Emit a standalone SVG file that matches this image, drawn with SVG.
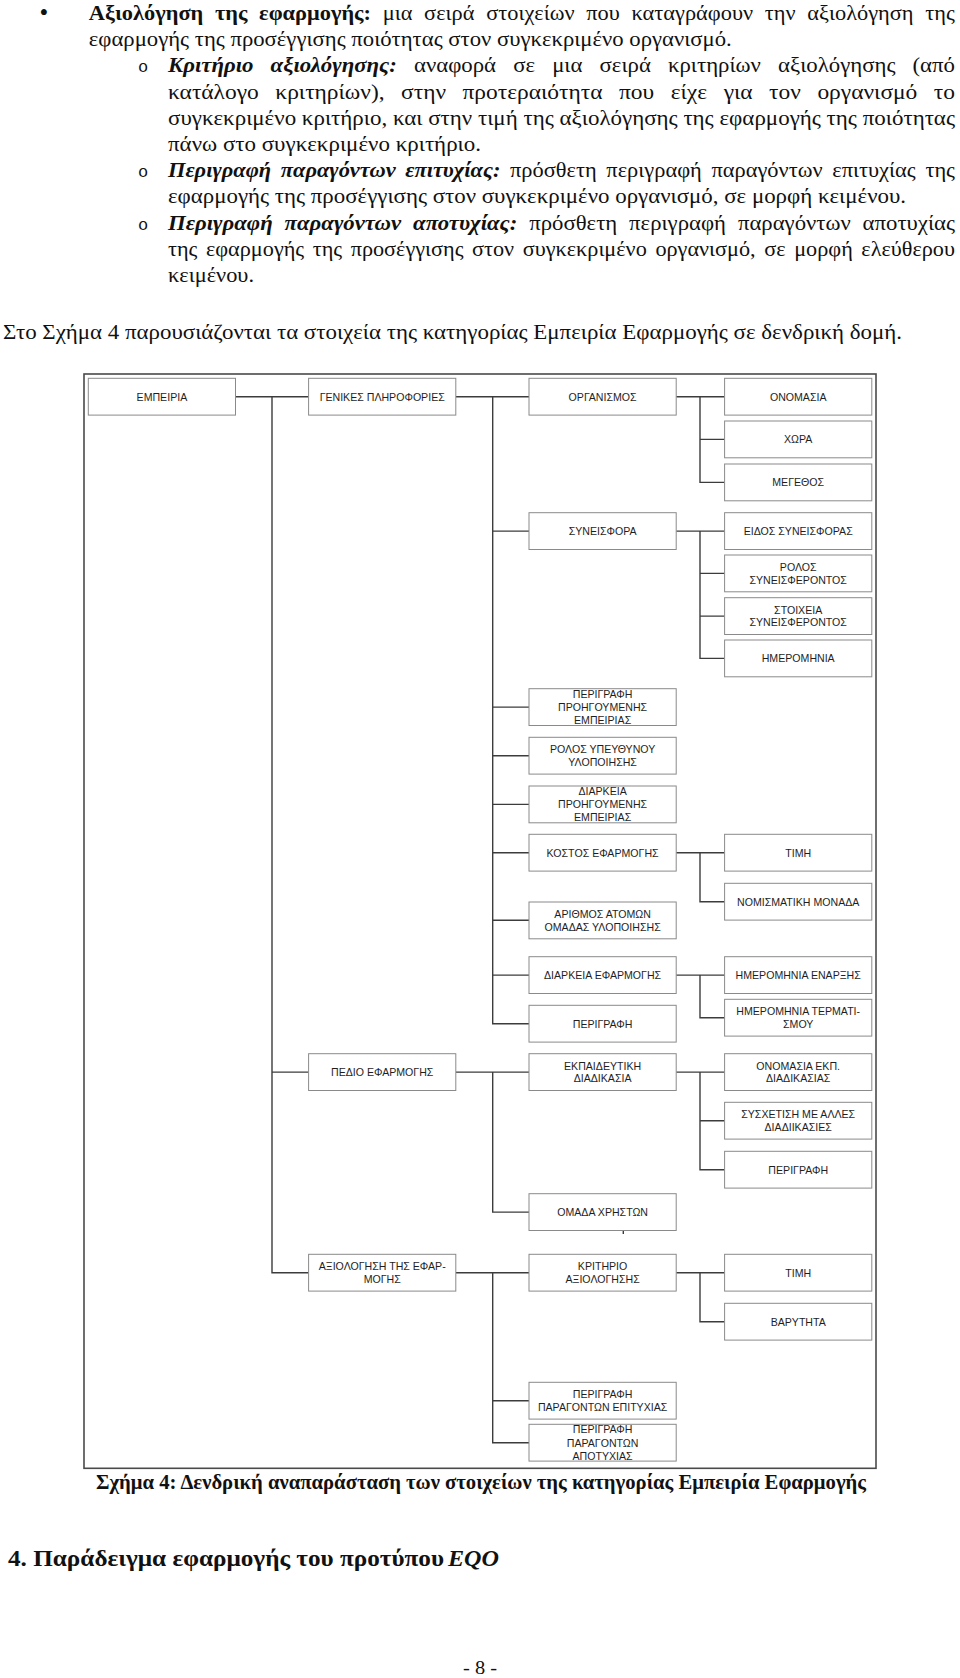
<svg xmlns="http://www.w3.org/2000/svg" width="960" height="1678" viewBox="0 0 960 1678">
<style>
.p{font-family:"Liberation Serif","Times New Roman",serif;font-size:22px;fill:#111}
.bi{font-weight:bold;font-style:italic}
.b{font-weight:bold}
.ob{font-family:"Liberation Mono","Courier New",monospace;font-size:17px;fill:#111}
.box{fill:#fff;stroke:#8a8a8a;stroke-width:1}
.bt{font-family:"Liberation Sans",Arial,sans-serif;font-size:10.6px;fill:#1e1e1e;text-anchor:middle}
.con{fill:none;stroke:#3c3c3c;stroke-width:1.4}
.frame{fill:none;stroke:#4a4a4a;stroke-width:1.6}
</style>
<rect width="960" height="1678" fill="#fff"/>
<g id="body-text">
<text class="p" x="44" y="21" text-anchor="middle" style="font-size:25px">•</text>
<text class="p" x="88.8" y="20" textLength="866" lengthAdjust="spacingAndGlyphs" word-spacing="6"><tspan class="b">Αξιολόγηση της εφαρμογής:</tspan> μια σειρά στοιχείων που καταγράφουν την αξιολόγηση της</text>
<text class="p" x="88.8" y="46.2" textLength="643" lengthAdjust="spacingAndGlyphs">εφαρμογής της προσέγγισης ποιότητας στον συγκεκριμένο οργανισμό.</text>
<text class="ob" x="138" y="72.4">o</text>
<text class="p" x="168" y="72.4" textLength="787" lengthAdjust="spacingAndGlyphs" word-spacing="11"><tspan class="bi">Κριτήριο αξιολόγησης:</tspan> αναφορά σε μια σειρά κριτηρίων αξιολόγησης (από</text>
<text class="p" x="168" y="98.6" textLength="787" lengthAdjust="spacingAndGlyphs" word-spacing="10">κατάλογο κριτηρίων), στην προτεραιότητα που είχε για τον οργανισμό το</text>
<text class="p" x="168" y="124.8" textLength="787" lengthAdjust="spacingAndGlyphs">συγκεκριμένο κριτήριο, και στην τιμή της αξιολόγησης της εφαρμογής της ποιότητας</text>
<text class="p" x="168" y="151" textLength="313" lengthAdjust="spacingAndGlyphs">πάνω στο συγκεκριμένο κριτήριο.</text>
<text class="ob" x="138" y="177.2">o</text>
<text class="p" x="168" y="177.2" textLength="787" lengthAdjust="spacingAndGlyphs" word-spacing="4"><tspan class="bi">Περιγραφή παραγόντων επιτυχίας:</tspan> πρόσθετη περιγραφή παραγόντων επιτυχίας της</text>
<text class="p" x="168" y="203.4" textLength="738" lengthAdjust="spacingAndGlyphs">εφαρμογής της προσέγγισης στον συγκεκριμένο οργανισμό, σε μορφή κειμένου.</text>
<text class="ob" x="138" y="229.6">o</text>
<text class="p" x="168" y="229.6" textLength="787" lengthAdjust="spacingAndGlyphs" word-spacing="6"><tspan class="bi">Περιγραφή παραγόντων αποτυχίας:</tspan> πρόσθετη περιγραφή παραγόντων αποτυχίας</text>
<text class="p" x="168" y="255.8" textLength="787" lengthAdjust="spacingAndGlyphs" word-spacing="3">της εφαρμογής της προσέγγισης στον συγκεκριμένο οργανισμό, σε μορφή ελεύθερου</text>
<text class="p" x="168" y="282" textLength="86" lengthAdjust="spacingAndGlyphs">κειμένου.</text>
<text class="p" x="3" y="339" textLength="899" lengthAdjust="spacingAndGlyphs">Στο Σχήμα 4 παρουσιάζονται τα στοιχεία της κατηγορίας Εμπειρία Εφαρμογής σε δενδρική δομή.</text>
</g>
<rect class="frame" x="84" y="374" width="792" height="1094.3"/>
<g id="connectors">
<path class="con" d="M235.5 396.7H308.6M272 396.7V1272.7H308.6M272 1072.1H308.6"/>
<path class="con" d="M455.8 396.7H529M492.7 396.7V1023.7H529M492.7 531.1H529M492.7 707.1H529M492.7 755.7H529M492.7 804.4H529M492.7 852.7H529M492.7 920.2H529M492.7 975.1H529"/>
<path class="con" d="M455.8 1072.1H529M492.7 1072.1V1212.1H529"/>
<path class="con" d="M455.8 1272.7H529M492.7 1272.7V1442.7H529M492.7 1400.7H529"/>
<path class="con" d="M676.2 396.7H724.6M700 396.7V482.4H724.6M700 439.4H724.6"/>
<path class="con" d="M676.2 531.1H724.6M700 531.1V658.4H724.6M700 573.4H724.6M700 616.1H724.6"/>
<path class="con" d="M676.2 852.7H724.6M700 852.7V901.7H724.6"/>
<path class="con" d="M676.2 975.1H724.6M700 975.1V1017.7H724.6"/>
<path class="con" d="M676.2 1072.1H724.6M700 1072.1V1169.7H724.6M700 1120.7H724.6"/>
<path class="con" d="M676.2 1272.7H724.6M700 1272.7V1321.7H724.6"/>
<path class="con" d="M623.3 1231V1234" stroke-width="1"/>
</g>
<g id="n-empeiria"><rect class="box" x="88.3" y="378.3" width="147.2" height="36.8"/><text class="bt" x="161.9" y="400.5">ΕΜΠΕΙΡΙΑ</text></g>
<g id="n-genikes"><rect class="box" x="308.6" y="378.3" width="147.2" height="36.8"/><text class="bt" x="382.2" y="400.5">ΓΕΝΙΚΕΣ ΠΛΗΡΟΦΟΡΙΕΣ</text></g>
<g id="n-pedio"><rect class="box" x="308.6" y="1053.7" width="147.2" height="36.8"/><text class="bt" x="382.2" y="1075.9">ΠΕΔΙΟ ΕΦΑΡΜΟΓΗΣ</text></g>
<g id="n-axiologisi"><rect class="box" x="308.6" y="1254.3" width="147.2" height="36.8"/><text class="bt" x="382.2" y="1270.1">ΑΞΙΟΛΟΓΗΣΗ ΤΗΣ ΕΦΑΡ-</text><text class="bt" x="382.2" y="1282.9">ΜΟΓΗΣ</text></g>
<g id="n-organismos"><rect class="box" x="529" y="378.3" width="147.2" height="36.8"/><text class="bt" x="602.6" y="400.5">ΟΡΓΑΝΙΣΜΟΣ</text></g>
<g id="n-syneisfora"><rect class="box" x="529" y="512.7" width="147.2" height="36.8"/><text class="bt" x="602.6" y="534.9">ΣΥΝΕΙΣΦΟΡΑ</text></g>
<g id="n-perigrafi-proig"><rect class="box" x="529" y="688.7" width="147.2" height="36.8"/><text class="bt" x="602.6" y="697.7">ΠΕΡΙΓΡΑΦΗ</text><text class="bt" x="602.6" y="710.9">ΠΡΟΗΓΟΥΜΕΝΗΣ</text><text class="bt" x="602.6" y="724.1">ΕΜΠΕΙΡΙΑΣ</text></g>
<g id="n-rolos-ypeuthynou"><rect class="box" x="529" y="737.3" width="147.2" height="36.8"/><text class="bt" x="602.6" y="753.1">ΡΟΛΟΣ ΥΠΕΥΘΥΝΟΥ</text><text class="bt" x="602.6" y="765.9">ΥΛΟΠΟΙΗΣΗΣ</text></g>
<g id="n-diarkeia-proig"><rect class="box" x="529" y="786" width="147.2" height="36.8"/><text class="bt" x="602.6" y="795">ΔΙΑΡΚΕΙΑ</text><text class="bt" x="602.6" y="808.2">ΠΡΟΗΓΟΥΜΕΝΗΣ</text><text class="bt" x="602.6" y="821.4">ΕΜΠΕΙΡΙΑΣ</text></g>
<g id="n-kostos"><rect class="box" x="529" y="834.3" width="147.2" height="36.8"/><text class="bt" x="602.6" y="856.5">ΚΟΣΤΟΣ ΕΦΑΡΜΟΓΗΣ</text></g>
<g id="n-arithmos"><rect class="box" x="529" y="902" width="147.2" height="36.8"/><text class="bt" x="602.6" y="917.8">ΑΡΙΘΜΟΣ ΑΤΟΜΩΝ</text><text class="bt" x="602.6" y="930.6">ΟΜΑΔΑΣ ΥΛΟΠΟΙΗΣΗΣ</text></g>
<g id="n-diarkeia-ef"><rect class="box" x="529" y="956.7" width="147.2" height="36.8"/><text class="bt" x="602.6" y="978.9">ΔΙΑΡΚΕΙΑ ΕΦΑΡΜΟΓΗΣ</text></g>
<g id="n-perigrafi"><rect class="box" x="529" y="1005.3" width="147.2" height="36.8"/><text class="bt" x="602.6" y="1027.5">ΠΕΡΙΓΡΑΦΗ</text></g>
<g id="n-ekpaideftiki"><rect class="box" x="529" y="1053.7" width="147.2" height="36.8"/><text class="bt" x="602.6" y="1069.5">ΕΚΠΑΙΔΕΥΤΙΚΗ</text><text class="bt" x="602.6" y="1082.3">ΔΙΑΔΙΚΑΣΙΑ</text></g>
<g id="n-omada"><rect class="box" x="529" y="1193.7" width="147.2" height="36.8"/><text class="bt" x="602.6" y="1215.9">ΟΜΑΔΑ ΧΡΗΣΤΩΝ</text></g>
<g id="n-kritirio"><rect class="box" x="529" y="1254.3" width="147.2" height="36.8"/><text class="bt" x="602.6" y="1270.1">ΚΡΙΤΗΡΙΟ</text><text class="bt" x="602.6" y="1282.9">ΑΞΙΟΛΟΓΗΣΗΣ</text></g>
<g id="n-epityxias"><rect class="box" x="529" y="1382.3" width="147.2" height="36.8"/><text class="bt" x="602.6" y="1398.1">ΠΕΡΙΓΡΑΦΗ</text><text class="bt" x="602.6" y="1410.9">ΠΑΡΑΓΟΝΤΩΝ ΕΠΙΤΥΧΙΑΣ</text></g>
<g id="n-apotyxias"><rect class="box" x="529" y="1424.3" width="147.2" height="36.8"/><text class="bt" x="602.6" y="1433.3">ΠΕΡΙΓΡΑΦΗ</text><text class="bt" x="602.6" y="1446.5">ΠΑΡΑΓΟΝΤΩΝ</text><text class="bt" x="602.6" y="1459.7">ΑΠΟΤΥΧΙΑΣ</text></g>
<g id="n-onomasia"><rect class="box" x="724.6" y="378.3" width="147.2" height="36.8"/><text class="bt" x="798.2" y="400.5">ΟΝΟΜΑΣΙΑ</text></g>
<g id="n-xora"><rect class="box" x="724.6" y="421" width="147.2" height="36.8"/><text class="bt" x="798.2" y="443.2">ΧΩΡΑ</text></g>
<g id="n-megethos"><rect class="box" x="724.6" y="464" width="147.2" height="36.8"/><text class="bt" x="798.2" y="486.2">ΜΕΓΕΘΟΣ</text></g>
<g id="n-eidos"><rect class="box" x="724.6" y="512.7" width="147.2" height="36.8"/><text class="bt" x="798.2" y="534.9">ΕΙΔΟΣ ΣΥΝΕΙΣΦΟΡΑΣ</text></g>
<g id="n-rolos-syn"><rect class="box" x="724.6" y="555" width="147.2" height="36.8"/><text class="bt" x="798.2" y="570.8">ΡΟΛΟΣ</text><text class="bt" x="798.2" y="583.6">ΣΥΝΕΙΣΦΕΡΟΝΤΟΣ</text></g>
<g id="n-stoixeia"><rect class="box" x="724.6" y="597.7" width="147.2" height="36.8"/><text class="bt" x="798.2" y="613.5">ΣΤΟΙΧΕΙΑ</text><text class="bt" x="798.2" y="626.3">ΣΥΝΕΙΣΦΕΡΟΝΤΟΣ</text></g>
<g id="n-imerominia"><rect class="box" x="724.6" y="640" width="147.2" height="36.8"/><text class="bt" x="798.2" y="662.2">ΗΜΕΡΟΜΗΝΙΑ</text></g>
<g id="n-timi1"><rect class="box" x="724.6" y="834.3" width="147.2" height="36.8"/><text class="bt" x="798.2" y="856.5">ΤΙΜΗ</text></g>
<g id="n-nomismatiki"><rect class="box" x="724.6" y="883.3" width="147.2" height="36.8"/><text class="bt" x="798.2" y="905.5">ΝΟΜΙΣΜΑΤΙΚΗ ΜΟΝΑΔΑ</text></g>
<g id="n-enarxis"><rect class="box" x="724.6" y="956.7" width="147.2" height="36.8"/><text class="bt" x="798.2" y="978.9">ΗΜΕΡΟΜΗΝΙΑ ΕΝΑΡΞΗΣ</text></g>
<g id="n-termatismou"><rect class="box" x="724.6" y="999.3" width="147.2" height="36.8"/><text class="bt" x="798.2" y="1015.1">ΗΜΕΡΟΜΗΝΙΑ ΤΕΡΜΑΤΙ-</text><text class="bt" x="798.2" y="1027.9">ΣΜΟΥ</text></g>
<g id="n-onomasia-ekp"><rect class="box" x="724.6" y="1053.7" width="147.2" height="36.8"/><text class="bt" x="798.2" y="1069.5">ΟΝΟΜΑΣΙΑ ΕΚΠ.</text><text class="bt" x="798.2" y="1082.3">ΔΙΑΔΙΚΑΣΙΑΣ</text></g>
<g id="n-sysxetisi"><rect class="box" x="724.6" y="1102.3" width="147.2" height="36.8"/><text class="bt" x="798.2" y="1118.1">ΣΥΣΧΕΤΙΣΗ ΜΕ ΑΛΛΕΣ</text><text class="bt" x="798.2" y="1130.9">ΔΙΑΔΙΙΚΑΣΙΕΣ</text></g>
<g id="n-perigrafi2"><rect class="box" x="724.6" y="1151.3" width="147.2" height="36.8"/><text class="bt" x="798.2" y="1173.5">ΠΕΡΙΓΡΑΦΗ</text></g>
<g id="n-timi2"><rect class="box" x="724.6" y="1254.3" width="147.2" height="36.8"/><text class="bt" x="798.2" y="1276.5">ΤΙΜΗ</text></g>
<g id="n-varytita"><rect class="box" x="724.6" y="1303.3" width="147.2" height="36.8"/><text class="bt" x="798.2" y="1325.5">ΒΑΡΥΤΗΤΑ</text></g>
<g id="captions">
<text class="p b" x="96" y="1489" style="font-size:20.5px" textLength="770" lengthAdjust="spacingAndGlyphs">Σχήμα 4: Δενδρική αναπαράσταση των στοιχείων της κατηγορίας Εμπειρία Εφαρμογής</text>
<text class="p b" x="8" y="1566" style="font-size:23px" textLength="436" lengthAdjust="spacingAndGlyphs">4. Παράδειγμα εφαρμογής του προτύπου</text>
<text class="p bi" x="448" y="1566" style="font-size:24px" textLength="51" lengthAdjust="spacingAndGlyphs">EQO</text>
<text class="p" x="463" y="1674" style="font-size:19px" textLength="34" lengthAdjust="spacingAndGlyphs">- 8 -</text>
</g>
</svg>
